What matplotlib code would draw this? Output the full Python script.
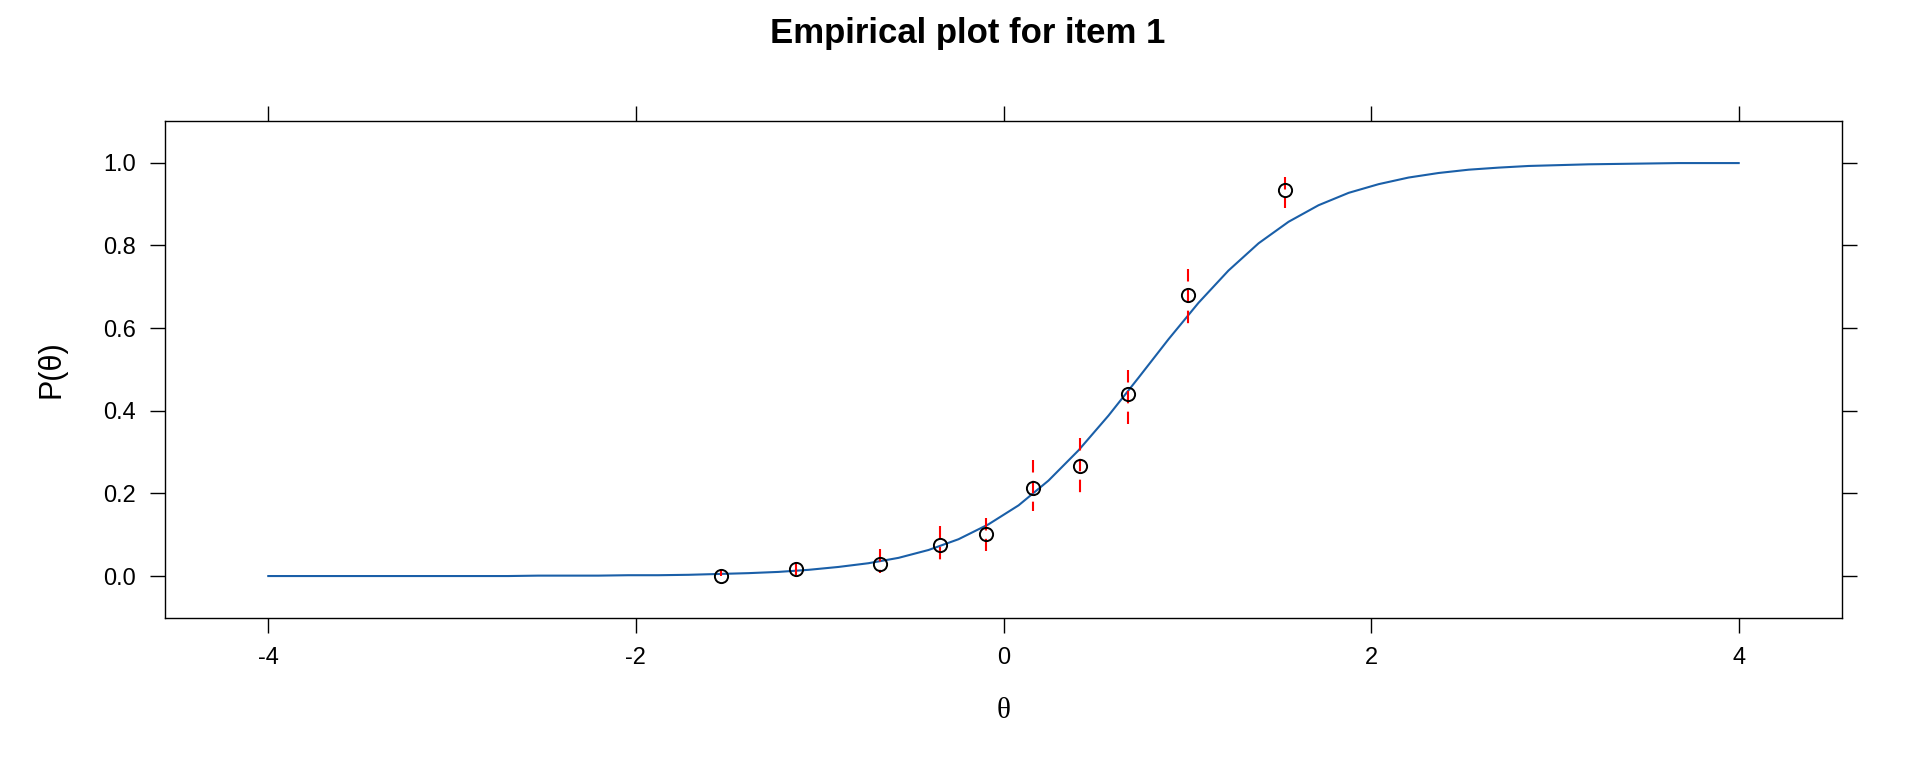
import matplotlib
matplotlib.use('Agg')
import matplotlib.pyplot as plt

# model curve
theta_grid = [-4.000, -3.837, -3.673, -3.510, -3.347, -3.184, -3.020, -2.857, -2.694, -2.531,
              -2.367, -2.204, -2.041, -1.878, -1.714, -1.551, -1.388, -1.224, -1.061, -0.898,
              -0.735, -0.571, -0.408, -0.245, -0.082, 0.082, 0.245, 0.408, 0.571, 0.735,
              0.898, 1.061, 1.224, 1.388, 1.551, 1.714, 1.878, 2.041, 2.204, 2.367,
              2.531, 2.694, 2.857, 3.020, 3.184, 3.347, 3.510, 3.673, 3.837, 4.000]
p_curve = [0.000, 0.000, 0.000, 0.000, 0.000, 0.000, 0.000, 0.000, 0.000, 0.001,
           0.001, 0.001, 0.002, 0.002, 0.003, 0.005, 0.007, 0.010, 0.015, 0.022,
           0.031, 0.044, 0.063, 0.089, 0.125, 0.171, 0.231, 0.304, 0.388, 0.480,
           0.573, 0.661, 0.739, 0.805, 0.857, 0.897, 0.927, 0.948, 0.964, 0.975,
           0.983, 0.988, 0.992, 0.994, 0.996, 0.997, 0.998, 0.999, 0.999, 0.999]

# empirical points and their intervals
theta_pts = [-1.539, -1.131, -0.674, -0.348, -0.093, 0.162, 0.415, 0.675, 1.006, 1.531]
p_obs = [0.000, 0.018, 0.030, 0.076, 0.101, 0.214, 0.266, 0.440, 0.681, 0.934]
ci_lo = [0.000, 0.003, 0.008, 0.040, 0.060, 0.157, 0.202, 0.367, 0.610, 0.891]
ci_hi = [0.018, 0.032, 0.065, 0.121, 0.141, 0.280, 0.335, 0.499, 0.742, 0.966]

yticks = [0.0, 0.2, 0.4, 0.6, 0.8, 1.0]
xticks = [-4, -2, 0, 2, 4]

plt.rcParams['font.family'] = ['Liberation Sans', 'DejaVu Sans']

fig = plt.figure(figsize=(19.2, 7.68), dpi=100)
ax = fig.add_axes([165 / 1920, 1 - 618 / 768, (1842 - 165) / 1920, (618 - 120.7) / 768])

ax.plot(theta_grid, p_curve, color='#1a5fa8', lw=1.5, zorder=2)
for x, lo, hi in zip(theta_pts, ci_lo, ci_hi):
    ax.plot([x, x], [hi, lo], color='red', lw=1.5, linestyle=(0, (6, 4)), zorder=3)
ax.plot(theta_pts, p_obs, 'o', ms=9.5, mfc='none', mec='black', mew=1.4, zorder=4)

ax.set_xlim(-4.562, 4.562)
ax.set_ylim(-0.1015, 1.1015)
ax.set_xticks(xticks)
ax.set_xticklabels([str(t) for t in xticks])
ax.set_yticks(yticks)
ax.set_yticklabels([f'{t:.1f}' for t in yticks])
ax.tick_params(direction='out', length=10.8, width=1.0, top=True, right=True,
               labeltop=False, labelright=False, pad=10, labelsize=17)
for sp in ax.spines.values():
    sp.set_linewidth(1.0)

fig.text(968 / 1920, 1 - 43.3 / 768, 'Empirical plot for item 1', ha='center', va='baseline',
         fontsize=25, fontweight='bold')
fig.text(1003.5 / 1920, 1 - 711 / 768, 'θ', ha='center', va='center', fontsize=21,
         family=['Liberation Serif', 'DejaVu Serif'])
fig.text(51.5 / 1920, 1 - 369 / 768, 'P(θ)', ha='center', va='center', fontsize=22,
         rotation=90)

plt.savefig('out.png', dpi=100)
plt.close()
